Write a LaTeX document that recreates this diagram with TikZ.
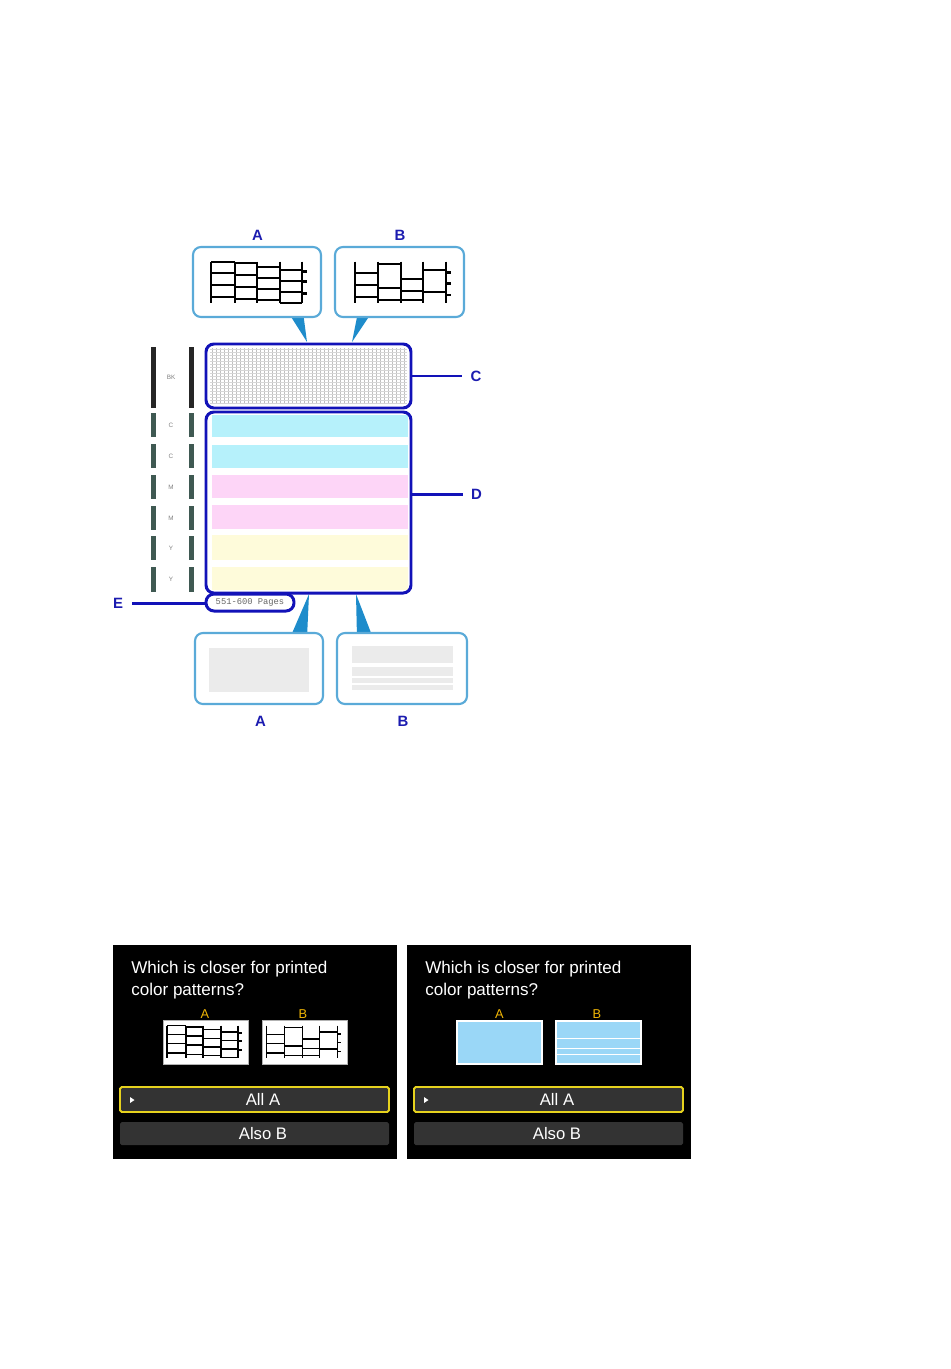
\documentclass[tikz,border=0pt]{standalone}
\usepackage{fontspec}
\setmainfont{Liberation Sans}
\newfontfamily\pagefont{Liberation Mono}

\definecolor{markblue}{HTML}{1C1CB0}
\definecolor{frameblue}{HTML}{1212B8}
\definecolor{calloutblue}{HTML}{5AAAD8}
\definecolor{wedgeblue}{HTML}{1E8CCB}
\definecolor{stripecyan}{HTML}{B6F1FB}
\definecolor{stripemagenta}{HTML}{FDD5F7}
\definecolor{stripeyellow}{HTML}{FEFBDA}
\definecolor{inkbar}{HTML}{3F5952}
\definecolor{lcdbar}{HTML}{333333}
\definecolor{lcdyellow}{HTML}{E6D21E}
\definecolor{lcdlabel}{HTML}{F2B705}
\definecolor{lcdblue}{HTML}{9AD7F7}

\newcommand{\px}{0.02cm}

% staggered ruled pattern, 91 x 42 px
\newcommand{\pattA}{%
  \foreach \x in {0,24,46,69,91} \draw[vline] (\x,0.7) -- (\x,42);
  \foreach \y in {0.7,12.3,24,35.7} \draw (0,\y) -- (24,\y);
  \foreach \y in {2.3,14,25.7,38} \draw (24,\y) -- (46,\y);
  \foreach \y in {5.7,17.3,28.3,39} \draw (46,\y) -- (69,\y);
  \foreach \y in {9,20,30.7,41.7} \draw (69,\y) -- (91,\y);
  \foreach \y in {10.7,20.7,32.3} \draw[vline] (91,\y) -- (96,\y);
}
\newcommand{\pattB}{%
  \foreach \x in {0,23,46,68,91} \draw[vline] (\x,0.7) -- (\x,42);
  \foreach \y in {12,24,36} \draw (0,\y) -- (23,\y);
  \foreach \y in {3,27,39} \draw (23,\y) -- (46,\y);
  \foreach \y in {18,30,39} \draw (46,\y) -- (68,\y);
  \foreach \y in {9,30.7} \draw (68,\y) -- (91,\y);
  \foreach \y in {11.3,22.3,34} \draw[vline] (91,\y) -- (96,\y);
}

\begin{document}
\begin{tikzpicture}[x=0.02cm, y=-0.02cm,
    sized/.style 2 args={minimum width=#1*\px, minimum height=#2*\px},
    callbox/.style={draw=calloutblue, line width=1.2pt, rounded corners=4.5pt, fill=white, inner sep=0pt},
    pageframe/.style={draw=frameblue, line width=1.7pt, rounded corners=4.5pt, inner sep=0pt},
    letter/.style={text=markblue, font=\fontsize{8.5}{10}\selectfont\bfseries, inner sep=0pt},
    leader/.style={draw=frameblue, line width=1.2pt},
    wedge/.style={fill=wedgeblue},
    gridline/.style={draw=gray!50, line width=0.3pt},
    inklabel/.style={text=gray, font=\fontsize{3.6}{4}\selectfont, inner sep=0pt},
    lcd/.style={fill=black, inner sep=0pt},
    button/.style={fill=lcdbar, inner sep=0pt, rounded corners=1pt},
    lcdtext/.style={text=white, font=\fontsize{9.7}{12}\selectfont, inner sep=0pt},
    lcdletter/.style={text=lcdlabel, font=\fontsize{7.3}{9}\selectfont, inner sep=0pt}]
  \useasboundingbox[fill=white] (0,0) rectangle (950,1369);

  % pointers
  \fill[wedge] (288,312) -- (303,312) -- (307,342) -- cycle;
  \fill[wedge] (358,312) -- (372,312) -- (352,342) -- cycle;
  \fill[wedge] (290,638) -- (307,638) -- (309,594) -- cycle;
  \fill[wedge] (357,638) -- (373,638) -- (356,594) -- cycle;

  % upper callouts
  \node[callbox, sized={128}{70}] (topA) at (257,282) {};
  \node[callbox, sized={129}{70}] (topB) at (399.5,282) {};
  \begin{scope}[shift={(211,261)}, line width=1.1pt, vline/.style={line width=1.6pt}]
    \pattA
  \end{scope}
  \begin{scope}[shift={(355,261)}, line width=1.1pt, vline/.style={line width=1.6pt}]
    \pattB
  \end{scope}
  \node[letter] (labTA) at (257.5,235) {A};
  \node[letter] (labTB) at (400,235) {B};

  % nozzle check grid
  \foreach \x in {212,216,...,406} \draw[gridline] (\x,348) -- (\x,404);
  \foreach \y in {349,352,...,403} \draw[gridline, draw=gray!32] (210,\y) -- (407,\y);
  \node[pageframe, sized={205}{64}] (nozzle) at (308.5,376) {};

  % colour stripes
  \foreach \t/\b/\c in {415/437/stripecyan, 445/468/stripecyan, 475/498/stripemagenta,
                        505/529/stripemagenta, 535/560/stripeyellow, 567/590/stripeyellow}
    \fill[\c] (212,\t) rectangle (408,\b);
  \node[pageframe, sized={205}{181}] (colour) at (308.5,502.5) {};

  % ink bars on the left
  \fill[black!85] (150.5,347) rectangle (155.5,408);
  \fill[black!85] (189,347) rectangle (194,408);
  \node[inklabel] (inkBK) at (171,377) {BK};
  \foreach \t/\b/\l [count=\i] in {413/437/C, 444/468/C, 475/499/M, 506/530/M, 536/560/Y, 567/592/Y} {
    \fill[inkbar] (150.5,\t) rectangle (155.5,\b);
    \fill[inkbar] (189,\t) rectangle (194,\b);
    \node[inklabel] (ink\i) at (171,{(\t+\b)/2}) {\l};
  }

  % page counter
  \node[pageframe, rounded corners=4.6pt, sized={88}{17}, font=\pagefont\fontsize{5}{6}\selectfont, text=gray!80!black] (pages) at (250,602.5) {551-600 Pages};

  \node[letter] (labC) at (476,376) {C};
  \node[letter] (labD) at (476.5,494.5) {D};
  \node[letter] (labE) at (118,603.5) {E};
  \draw[leader, shorten >=4.5pt] (labC -| nozzle.east) -- (labC.west);
  \draw[leader, shorten >=4.5pt] (labD -| colour.east) -- (labD.west);
  \draw[leader, shorten <=5pt] (labE.east) -- (labE -| pages.west);

  % lower callouts
  \node[callbox, sized={128}{71}] (botA) at (259,668.5) {};
  \node[callbox, sized={130}{71}] (botB) at (402,668.5) {};
  \fill[black!8] (209,648) rectangle (309,692);
  \foreach \t/\b in {646/663, 667/676, 678/683, 685/690}
    \fill[black!8] (352,\t) rectangle (453,\b);
  \node[letter] (labBA) at (260.5,721.5) {A};
  \node[letter] (labBB) at (403,721.5) {B};

  % left screen
  \node[lcd, sized={284}{214}] (scrL) at (255,1052) {};
  \node[lcdtext, anchor=base west] (qL1) at (131,973) {Which is closer for printed};
  \node[lcdtext, anchor=base west] (qL2) at (131,995) {color patterns?};
  \node[lcdletter] (lcdLA) at (205,1014.5) {A};
  \node[lcdletter] (lcdLB) at (303,1014.5) {B};
  \node[fill=white, draw=gray!60, line width=0.5pt, inner sep=0pt, sized={85}{44}] (smLA) at (205.5,1042) {};
  \node[fill=white, draw=gray!60, line width=0.5pt, inner sep=0pt, sized={85}{44}] (smLB) at (304.5,1042) {};
  \begin{scope}[shift={(167,1025)}, scale=0.78, line width=0.8pt, vline/.style={line width=1pt}]
    \pattA
  \end{scope}
  \begin{scope}[shift={(266.5,1025)}, scale=0.78, line width=0.8pt, vline/.style={line width=1pt}]
    \pattB
  \end{scope}
  \node[button, draw=lcdyellow, line width=1.1pt, sized={269}{25}] (allL) at (254.5,1099.5) {};
  \node[button, sized={269}{23}] (alsoL) at (254.5,1133.5) {};
  \fill[white] (130,1097) -- (134.5,1100) -- (130,1103) -- cycle;
  \node[lcdtext, font=\fontsize{9.5}{11}\selectfont] (tAllL) at (263,1099.5) {All A};
  \node[lcdtext, font=\fontsize{9.5}{11}\selectfont] (tAlsoL) at (263,1133.5) {Also B};

  % right screen
  \node[lcd, sized={284}{214}] (scrR) at (549,1052) {};
  \node[lcdtext, anchor=base west] (qR1) at (425,973) {Which is closer for printed};
  \node[lcdtext, anchor=base west] (qR2) at (425,995) {color patterns?};
  \node[lcdletter] (lcdRA) at (499.5,1014.5) {A};
  \node[lcdletter] (lcdRB) at (597,1014.5) {B};
  \node[fill=lcdblue, draw=white, line width=0.6pt, inner sep=0pt, sized={85}{43}] (smRA) at (499.5,1042.5) {};
  \node[fill=lcdblue, draw=white, line width=0.6pt, inner sep=0pt, sized={85}{43}] (smRB) at (598.5,1042.5) {};
  \foreach \y in {1038,1048,1054} \draw[white, line width=0.5pt] (556,\y) -- (641,\y);
  \node[button, draw=lcdyellow, line width=1.1pt, sized={269}{25}] (allR) at (548.5,1099.5) {};
  \node[button, sized={269}{23}] (alsoR) at (548.5,1133.5) {};
  \fill[white] (424,1097) -- (428.5,1100) -- (424,1103) -- cycle;
  \node[lcdtext, font=\fontsize{9.5}{11}\selectfont] (tAllR) at (557,1099.5) {All A};
  \node[lcdtext, font=\fontsize{9.5}{11}\selectfont] (tAlsoR) at (557,1133.5) {Also B};
\end{tikzpicture}
\end{document}
